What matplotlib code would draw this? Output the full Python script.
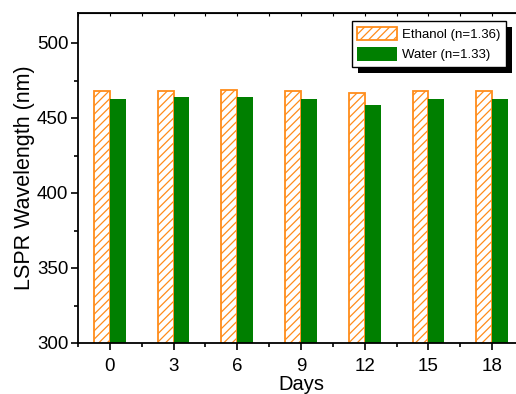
import matplotlib
matplotlib.use("Agg")
import matplotlib.pyplot as plt
import numpy as np
from matplotlib.patches import Patch, Rectangle

days = [0, 3, 6, 9, 12, 15, 18]
ethanol = [468, 468, 469, 468, 467, 468, 468]
water = [463, 464, 464.3, 463, 459, 463, 463]
labels = ["Ethanol (n=1.36)", "Water (n=1.33)"]

plt.rcParams['font.family'] = ['Liberation Sans', 'DejaVu Sans']
plt.rcParams['hatch.linewidth'] = 0.9

W, H = 516, 394
fig = plt.figure(figsize=(W / 100, H / 100), dpi=100)
ax = fig.add_axes([78 / W, 1 - 343 / H, (524 - 78) / W, (343 - 13) / H])

orange = '#FF8C1A'
green = '#007F00'
x = np.array(days, dtype=float)
bw = 0.75
ax.bar(x - bw / 2, ethanol, width=bw, facecolor='white', edgecolor=orange,
       hatch='////', linewidth=1.3, zorder=2)
ax.bar(x + bw / 2, water, width=bw, facecolor=green, edgecolor='none', zorder=2)

ax.set_xlim(-1.5, 19.5)
ax.set_ylim(300, 520)
ax.set_xticks(days)
ax.set_xticklabels([str(d) for d in days])
ax.set_xticks(np.arange(-1.5, 19.6, 3), minor=True)
ax.set_yticks([300, 350, 400, 450, 500])
ax.set_yticks(np.arange(325, 520, 50), minor=True)

for s in ax.spines.values():
    s.set_linewidth(1.3)

ax.tick_params(axis='both', which='major', direction='out', length=5, width=1.2,
               labelsize=13.5)
ax.tick_params(axis='x', which='major', pad=5.5)
ax.tick_params(axis='y', which='major', pad=2)
ax.tick_params(axis='both', which='minor', direction='out', length=3, width=1.2)
ax.tick_params(axis='x', top=False)

# top spine small inward ticks
sec = ax.secondary_xaxis('top')
sec.set_xticks(np.arange(-1.5, 19.6, 1.5))
sec.tick_params(direction='in', length=2.5, width=0.8, labeltop=False)
sec.set_xticklabels([])

ax.set_xlabel('Days', fontsize=14.5, labelpad=0.5)
ax.set_ylabel('LSPR Wavelength (nm)', fontsize=15.5, labelpad=1)

handles = [Patch(facecolor='white', edgecolor=orange, hatch='////', linewidth=1.3),
           Patch(facecolor=green, edgecolor='none')]
leg = fig.legend(handles, labels, loc='upper right',
                 bbox_to_anchor=(506 / W, 1 - 21 / H), bbox_transform=fig.transFigure,
                 fontsize=9.5, frameon=True, fancybox=False, shadow=False,
                 edgecolor='black', facecolor='white', framealpha=1,
                 handlelength=3.0, handleheight=1.2,
                 handletextpad=0.35, labelspacing=0.45, borderpad=0.45,
                 borderaxespad=0)
leg.get_frame().set_linewidth(1.0)
leg.set_zorder(10)

fig.canvas.draw()
bb = leg.get_window_extent()
off = 6
shadow = Rectangle((bb.x0 + off, bb.y0 - off), bb.width, bb.height,
                   transform=None, facecolor='black', edgecolor='none', zorder=9)
fig.patches.append(shadow)

fig.savefig('out.png', dpi=100)
